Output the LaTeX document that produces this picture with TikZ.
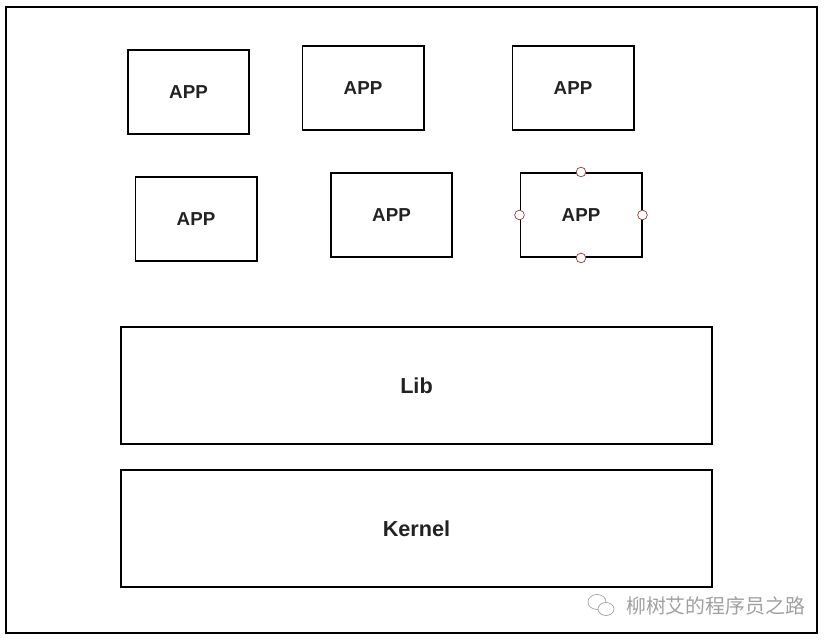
\documentclass[tikz,border=0pt]{standalone}
\usepackage{fontspec}
\setmainfont{Liberation Sans}
\newfontfamily\cjkfont{Noto Sans CJK SC}
\usepackage{tikz}
\usetikzlibrary{positioning}

\definecolor{inkgray}{HTML}{222222}
\definecolor{markgray}{HTML}{A0A0A0}
\definecolor{handlered}{HTML}{9A3A3A}

\begin{document}
\begin{tikzpicture}[
    x=0.03cm, y=-0.03cm,
    appbox/.style={rectangle, draw, line width=1.7pt, inner sep=0pt, minimum width=3.63cm, minimum height=2.52cm, text=inkgray, font=\fontsize{16}{18}\selectfont\bfseries},
    layerbox/.style={rectangle, draw, line width=1.7pt, inner sep=0pt, minimum width=17.73cm, minimum height=3.51cm, text=inkgray, font=\fontsize{18.5}{21}\selectfont\bfseries},
    handle/.style={circle, draw=handlered, fill=white, line width=0.6pt, inner sep=0pt, minimum size=0.29cm}
]
\useasboundingbox (0,0) rectangle (830,643);

% outer frame
\node[rectangle, draw, line width=1.7pt, inner sep=0pt, minimum width=24.33cm, minimum height=18.78cm] (host) at (411.5,320) {};

% applications
\node[appbox] (app1) at (188.5,92) {APP};
\node[appbox] (app2) at (363,88) {APP};
\node[appbox] (app3) at (573,88) {APP};
\node[appbox] (app4) at (196,219) {APP};
\node[appbox] (app5) at (391.5,215) {APP};
\node[appbox] (app6) at (581,215) {APP};

% selection handles
\node[handle] (hn) at (app6.north) {};
\node[handle] (hs) at (app6.south) {};
\node[handle] (hw) at (app6.west) {};
\node[handle] (he) at (app6.east) {};

% layers
\node[layerbox] (lib) at (416.5,385.5) {Lib};
\node[layerbox, below=0.72cm of lib] (kernel) {Kernel};

% watermark
\node[text=markgray, font=\cjkfont\fontsize{17}{19}\selectfont, anchor=west] (mark) at (622,606) {柳树艾的程序员之路};
\draw[markgray, line width=0.6pt] (597,602) ellipse [x radius=9, y radius=7.5];
\draw[markgray, line width=0.6pt, fill=white] (606,609) ellipse [x radius=8, y radius=6.5];
\end{tikzpicture}
\end{document}
